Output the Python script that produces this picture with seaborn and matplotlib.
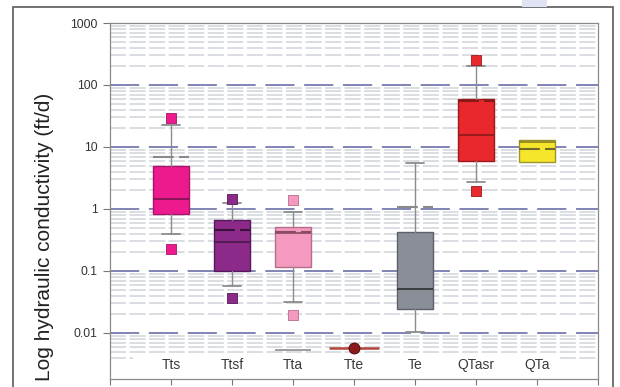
import numpy as np
import pandas as pd
import matplotlib
matplotlib.use("Agg")
import matplotlib.pyplot as plt
import seaborn as sns
from matplotlib.patches import Rectangle
from matplotlib.ticker import FixedLocator, FuncFormatter, NullFormatter

# ---------------- data (ft/d) ----------------
units = ["Tts", "Ttsf", "Tta", "Tte", "Te", "QTasr", "QTa"]

# box statistics, one entry per unit that has a box
box_units = ["Tts", "Ttsf", "Tta", "Te", "QTasr", "QTa"]
q1 = [0.83, 0.100, 0.117, 0.0245, 6.0, 5.7]
med = [1.45, 0.29, 0.41, 0.051, 15.6, 12.1]
q3 = [5.0, 0.66, 0.52, 0.43, 59.0, 12.9]
whis_lo = [0.40, 0.058, 0.032, 0.0105, 2.75, 5.7]
whis_hi = [22.5, 1.25, 0.90, 5.5, 205.0, 12.9]
mean = [6.9, 0.46, 0.42, 1.09, 56.0, 9.3]

# outliers
out_unit = ["Tts", "Tts", "Ttsf", "Ttsf", "Tta", "Tta", "QTasr", "QTasr"]
out_k = [29.5, 0.225, 1.45, 0.037, 1.40, 0.0195, 253.0, 1.97]

# single values
tte_k = [0.0057]
tta_min = [0.0054]

# ---------------- styles ----------------
fill = {"Tts": "#ec1a8c", "Ttsf": "#8c2a8a", "Tta": "#f49ac0", "Tte": "#8e1b1b",
        "Te": "#8a8f97", "QTasr": "#e8282d", "QTa": "#f6e62b"}
edge = {"Tts": "#a8146a", "Ttsf": "#55185a", "Tta": "#b86c8c", "Tte": "#5a1010",
        "Te": "#5c6068", "QTasr": "#9a1a1a", "QTa": "#9c9430"}
medc = {"Tts": "#7a1450", "Ttsf": "#4a1a48", "Tta": "#8a4a62", "Te": "#2e2e2e",
        "QTasr": "#8a1a1a", "QTa": "#8a8020"}
meanc = {"Tts": "#8a8a8a", "Ttsf": "#3a1238", "Tta": "#8a4a62", "Te": "#8a8a8a",
         "QTasr": "#8a1a1a", "QTa": "#6e6a2a"}
whisker_col = "#8c8c8c"

sns.set_style("white")
plt.rcParams["font.family"] = ["Liberation Sans", "DejaVu Sans"]

fig = plt.figure(figsize=(6.2, 3.87), dpi=100)
ax = fig.add_axes([110 / 620, 1 - 379 / 387, 488 / 620, 356 / 387])

pos = {u: i + 1 for i, u in enumerate(units)}

# boxes
for i, u in enumerate(box_units):
    st = dict(q1=q1[i], med=med[i], q3=q3[i], whislo=whis_lo[i],
              whishi=whis_hi[i], mean=mean[i], fliers=[])
    has_whisk = whis_lo[i] < q1[i] or whis_hi[i] > q3[i]
    ax.bxp([st], positions=[pos[u]], widths=0.6, capwidths=0.31,
           showmeans=True, meanline=True, patch_artist=True,
           showcaps=has_whisk, manage_ticks=False,
           boxprops=dict(facecolor=fill[u], edgecolor=edge[u], linewidth=1.0),
           medianprops=dict(color=medc[u], linewidth=1.2),
           meanprops=dict(color=meanc[u], linestyle=(0, (10, 2.5)), linewidth=1.5),
           whiskerprops=dict(color=whisker_col, linewidth=1.0),
           capprops=dict(color=whisker_col, linewidth=1.3))

# outliers
out_df = pd.DataFrame({"unit": out_unit, "k": out_k})
out_df["x"] = out_df["unit"].map(pos)
for u, grp in out_df.groupby("unit"):
    sns.scatterplot(data=grp, x="x", y="k", ax=ax, marker="s", s=42,
                    color=fill[u], edgecolor=edge[u], linewidth=0.6,
                    zorder=4, legend=False)

# Tta minimum line and Tte single value
ax.hlines(tta_min, pos["Tta"] - 0.3, pos["Tta"] + 0.3, color=whisker_col, lw=1.2, zorder=3)
ax.hlines(tte_k, pos["Tte"] - 0.41, pos["Tte"] + 0.41, color="#b5453c", lw=1.8, zorder=3)
tte_df = pd.DataFrame({"x": [pos["Tte"]] * len(tte_k), "k": tte_k})
sns.scatterplot(data=tte_df, x="x", y="k", ax=ax, marker="o", s=60,
                color=fill["Tte"], edgecolor=edge["Tte"], linewidth=0.8,
                zorder=4, legend=False)

# axes / scale
ax.set_yscale("log")
ax.set_ylim(0.00181, 1000)
ax.set_xlim(0, 8)
ax.set_xlabel("")
ax.set_ylabel("")

ax.yaxis.set_major_locator(FixedLocator([0.01, 0.1, 1, 10, 100, 1000]))
ax.yaxis.set_major_formatter(FuncFormatter(lambda v, p: f"{v:g}"))
minor = [k * 10.0 ** e for e in range(-3, 3) for k in range(2, 10) if k * 10.0 ** e >= 0.004]
ax.yaxis.set_minor_locator(FixedLocator(minor))
ax.yaxis.set_minor_formatter(NullFormatter())
ax.set_xticks(range(0, 9))
ax.set_xticklabels([])

ax.tick_params(axis="y", which="major", left=True, length=5, width=0.8,
               color="#777777", labelsize=8.7, labelcolor="#333333", pad=4)
ax.tick_params(axis="y", which="minor", left=False, length=0)
ax.tick_params(axis="x", bottom=True, length=4, width=0.8, color="#777777")

ax.set_axisbelow(True)
ax.yaxis.grid(True, which="major", color="#6a6fa8", lw=1.2, linestyle=(0, (17.5, 5.8)))
ax.yaxis.grid(True, which="minor", color="#d0d3da", lw=1.1, linestyle=(0, (10.5, 2.3)))
ax.xaxis.grid(False)

for s in ax.spines.values():
    s.set_color("#8a8a8a")
    s.set_linewidth(0.9)

# white area behind the unit labels
ax.add_patch(Rectangle((0.38, 0.0018), 7.0, 0.0025, facecolor="white",
                       edgecolor="none", zorder=1.5))
for u in units:
    ax.text(pos[u], 0.0031, u, ha="center", va="center", fontsize=10,
            color="#3a3a3a", zorder=5)

fig.text(45 / 620, 1 - 237 / 387, "Log hydraulic conductivity (ft/d)",
         rotation=90, ha="center", va="center", fontsize=15, color="#222222")

# outer frame and scan artefact
fig.add_artist(Rectangle((13 / 620, -0.1), 600 / 620, 1.1 - 7 / 387,
                         transform=fig.transFigure, fill=False,
                         edgecolor="#5a5a5a", lw=1.2))
fig.add_artist(Rectangle((522 / 620, 1 - 7 / 387), 25 / 620, 7 / 387,
                         transform=fig.transFigure, facecolor="#dfe3f4",
                         edgecolor="none"))

fig.savefig("out.png", dpi=100)
